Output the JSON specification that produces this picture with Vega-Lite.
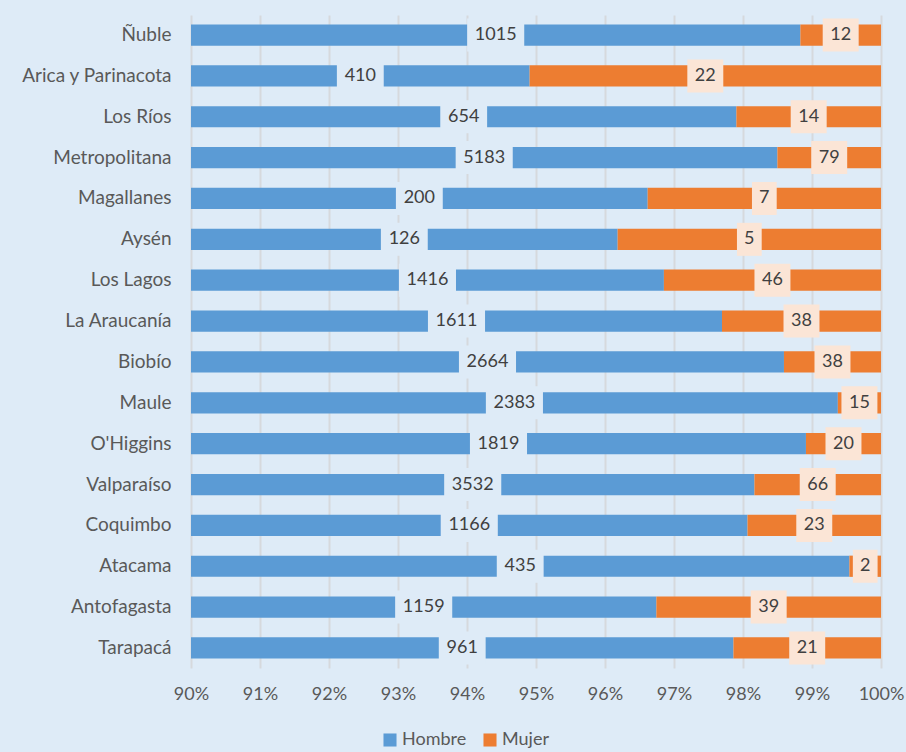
{
  "$schema": "https://vega.github.io/schema/vega-lite/v6.json",
  "width": 690,
  "height": 653,
  "autosize": {"type": "none"},
  "padding": {"left": 191, "top": 15, "right": 25, "bottom": 84},
  "background": "#DEEBF7",
  "config": {
    "view": {"stroke": null},
    "font": "Lato",
    "axis": {"labelFont": "Lato", "labelColor": "#595959", "labelFontSize": 18},
    "legend": {"labelFont": "Lato", "labelColor": "#595959", "labelFontSize": 18}
  },
  "data": {
    "values": [
      {"region": "Ñuble", "sex": "Hombre", "count": 1015},
      {"region": "Ñuble", "sex": "Mujer", "count": 12},
      {"region": "Arica y Parinacota", "sex": "Hombre", "count": 410},
      {"region": "Arica y Parinacota", "sex": "Mujer", "count": 22},
      {"region": "Los Ríos", "sex": "Hombre", "count": 654},
      {"region": "Los Ríos", "sex": "Mujer", "count": 14},
      {"region": "Metropolitana", "sex": "Hombre", "count": 5183},
      {"region": "Metropolitana", "sex": "Mujer", "count": 79},
      {"region": "Magallanes", "sex": "Hombre", "count": 200},
      {"region": "Magallanes", "sex": "Mujer", "count": 7},
      {"region": "Aysén", "sex": "Hombre", "count": 126},
      {"region": "Aysén", "sex": "Mujer", "count": 5},
      {"region": "Los Lagos", "sex": "Hombre", "count": 1416},
      {"region": "Los Lagos", "sex": "Mujer", "count": 46},
      {"region": "La Araucanía", "sex": "Hombre", "count": 1611},
      {"region": "La Araucanía", "sex": "Mujer", "count": 38},
      {"region": "Biobío", "sex": "Hombre", "count": 2664},
      {"region": "Biobío", "sex": "Mujer", "count": 38},
      {"region": "Maule", "sex": "Hombre", "count": 2383},
      {"region": "Maule", "sex": "Mujer", "count": 15},
      {"region": "O'Higgins", "sex": "Hombre", "count": 1819},
      {"region": "O'Higgins", "sex": "Mujer", "count": 20},
      {"region": "Valparaíso", "sex": "Hombre", "count": 3532},
      {"region": "Valparaíso", "sex": "Mujer", "count": 66},
      {"region": "Coquimbo", "sex": "Hombre", "count": 1166},
      {"region": "Coquimbo", "sex": "Mujer", "count": 23},
      {"region": "Atacama", "sex": "Hombre", "count": 435},
      {"region": "Atacama", "sex": "Mujer", "count": 2},
      {"region": "Antofagasta", "sex": "Hombre", "count": 1159},
      {"region": "Antofagasta", "sex": "Mujer", "count": 39},
      {"region": "Tarapacá", "sex": "Hombre", "count": 961},
      {"region": "Tarapacá", "sex": "Mujer", "count": 21}
    ]
  },
  "transform": [
    {"stack": "count", "groupby": ["region"], "sort": [{"field": "sex", "order": "ascending"}], "offset": "normalize", "as": ["s0", "s1"]},
    {"calculate": "datum.sex == 'Hombre' ? (0.9 + datum.s1) / 2 : (datum.s0 + datum.s1) / 2", "as": "lx"},
    {"calculate": "length(toString(datum.count))", "as": "nd"}
  ],
  "encoding": {
    "y": {
      "field": "region", "type": "nominal", "sort": null, "title": null,
      "scale": {"paddingInner": 0.48, "paddingOuter": 0.23},
      "axis": {"domain": false, "ticks": false, "labelPadding": 20, "grid": false, "labelFontSize": 19}
    }
  },
  "layer": [
    {
      "mark": {"type": "bar", "clip": true},
      "encoding": {
        "x": {
          "field": "s0", "type": "quantitative", "title": null,
          "scale": {"domain": [0.9, 1], "nice": false, "zero": false},
          "axis": {"format": ".0%", "values": [0.9, 0.91, 0.92, 0.93, 0.94, 0.95, 0.96, 0.97, 0.98, 0.99, 1.0], "domain": false, "ticks": false, "labelPadding": 17, "grid": true, "gridColor": "#D6D9DD", "gridWidth": 2, "labelFlush": false}
        },
        "x2": {"field": "s1"},
        "color": {
          "field": "sex", "type": "nominal", "title": null,
          "scale": {"domain": ["Hombre", "Mujer"], "range": ["#5B9BD5", "#ED7D31"]},
          "legend": {"orient": "none", "legendX": 190, "legendY": 716, "direction": "horizontal", "symbolType": "square", "symbolSize": 170, "symbolOpacity": 1, "labelOffset": 3, "columnPadding": 14}
        }
      }
    },
    {
      "transform": [{"filter": "datum.sex == 'Hombre'"}],
      "mark": {"type": "point", "filled": true, "opacity": 1, "color": "#DEEBF7", "size": 1089},
      "encoding": {
        "x": {"field": "lx", "type": "quantitative"},
        "shape": {"field": "nd", "type": "nominal", "legend": null,
          "scale": {"domain": [1, 2, 3, 4], "range": ["M-0.75,-1L0.75,-1L0.75,1L-0.75,1Z", "M-1.09,-1L1.09,-1L1.09,1L-1.09,1Z", "M-1.42,-1L1.42,-1L1.42,1L-1.42,1Z", "M-1.73,-1L1.73,-1L1.73,1L-1.73,1Z"]}}
      }
    },
    {
      "transform": [{"filter": "datum.sex == 'Mujer'"}],
      "mark": {"type": "point", "filled": true, "opacity": 1, "color": "#FBE5D6", "size": 1089},
      "encoding": {
        "x": {"field": "lx", "type": "quantitative"},
        "shape": {"field": "nd", "type": "nominal", "legend": null}
      }
    },
    {
      "mark": {"type": "text", "fontSize": 18, "color": "#404040", "font": "Lato"},
      "encoding": {
        "x": {"field": "lx", "type": "quantitative"},
        "text": {"field": "count", "type": "quantitative"}
      }
    }
  ]
}
